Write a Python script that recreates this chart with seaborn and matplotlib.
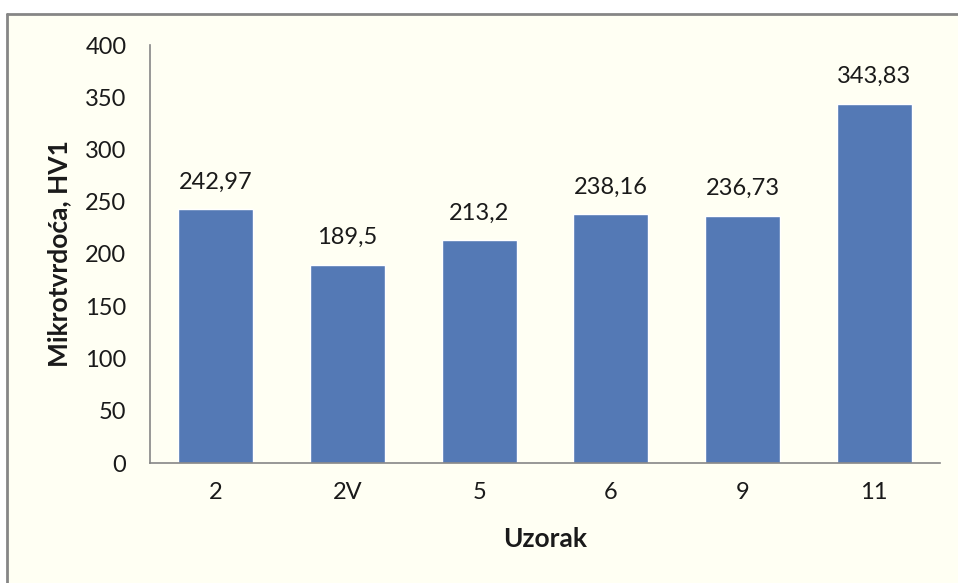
import matplotlib
matplotlib.use("Agg")
import matplotlib.pyplot as plt
from matplotlib.lines import Line2D
from matplotlib.patches import Rectangle
import seaborn as sns
import pandas as pd

# Sample identifiers and measured microhardness (HV1)
samples = ["2", "2V", "5", "6", "9", "11"]
hardness = [242.97, 189.5, 213.2, 238.16, 236.73, 343.83]
y_ticks = [0, 50, 100, 150, 200, 250, 300, 350, 400]

sns.set_theme(style="white")
plt.rcParams["font.family"] = ["Lato", "DejaVu Sans"]

W, H = 958, 583
fig = plt.figure(figsize=(W / 100, H / 100), dpi=100)
fig.patch.set_facecolor("white")

# cream chart area with a grey frame on its top and left edges
bg = Rectangle((7 / W, 0), 1 - 7 / W, 1 - 14 / H, transform=fig.transFigure,
               facecolor="#FFFFF3", edgecolor="none", zorder=-10)
fig.patches.append(bg)
fig.lines.append(Line2D([7 / W, 1], [1 - 14 / H, 1 - 14 / H], transform=fig.transFigure,
                        color="#868686", lw=2))
fig.lines.append(Line2D([7 / W, 7 / W], [0, 1 - 14 / H], transform=fig.transFigure,
                        color="#868686", lw=2))

ax = fig.add_axes([150 / W, 1 - 463 / H, (940 - 150) / W, (463 - 45) / H])
ax.set_facecolor("none")

df = pd.DataFrame({"Uzorak": samples, "HV1": hardness})
sns.barplot(data=df, x="Uzorak", y="HV1", order=samples, color="#5479B5",
            saturation=1, width=0.57, ax=ax)

labels = [f"{v:g}".replace(".", ",") for v in hardness]
ax.bar_label(ax.containers[0], labels=labels, padding=12, fontsize=17, color="#1a1a1a")

ax.set_ylim(0, 400)
ax.set_xlim(-0.5, len(samples) - 0.5)
ax.set_yticks(y_ticks)
ax.tick_params(axis="both", length=0, labelsize=17, colors="#1a1a1a")
ax.tick_params(axis="y", pad=17)
ax.tick_params(axis="x", pad=14)

for side in ("top", "right"):
    ax.spines[side].set_visible(False)
for side in ("left", "bottom"):
    ax.spines[side].set_color("#868686")
    ax.spines[side].set_linewidth(1.2)

ax.set_xlabel("Uzorak", fontsize=19, fontweight="bold", color="#1a1a1a", labelpad=17)
ax.set_ylabel("Mikrotvrdoća, HV1", fontsize=19, fontweight="bold", color="#1a1a1a", labelpad=10)

fig.savefig("out.png", dpi=100)
